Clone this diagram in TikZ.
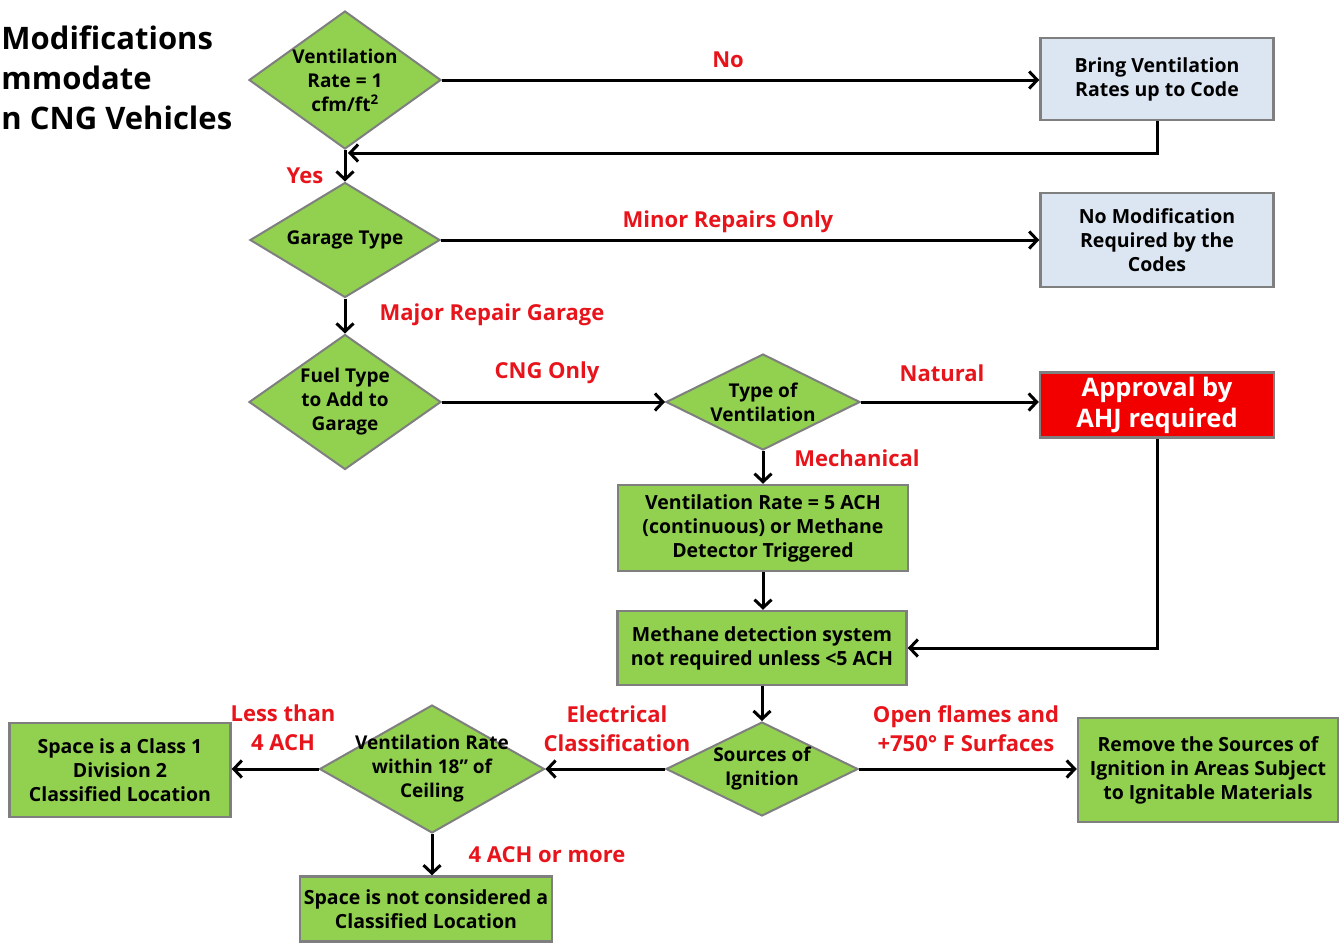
\documentclass[tikz,border=0pt]{standalone}
\usepackage{fontspec}
\setmainfont{Open Sans}
\usetikzlibrary{shapes.geometric,arrows.meta}
\definecolor{leaf}{HTML}{92D050}
\definecolor{edge}{HTML}{7F7F7F}
\definecolor{pale}{HTML}{DCE6F2}
\definecolor{alert}{HTML}{E8141B}
\begin{document}
\begin{tikzpicture}[x=1pt,y=-1pt,line width=3pt,
  >={Straight Barb[length=8pt,width=17pt]},
  dec/.style={diamond,draw=edge,line width=2pt,fill=leaf,inner sep=-12pt,align=center,
    font=\bfseries\fontsize{19}{24}\selectfont},
  act/.style={rectangle,draw=edge,line width=2.5pt,fill=leaf,inner sep=2pt,align=center,
    font=\bfseries\fontsize{19.5}{24}\selectfont},
  info/.style={act,fill=pale},
  halt/.style={act,fill=red!95!black,text=white,font=\bfseries\fontsize{25.5}{31}\selectfont},
  lbl/.style={text=alert,align=center,font=\bfseries\fontsize{22}{29}\selectfont}]
\useasboundingbox (0,0) rectangle (1342,948);

\node[anchor=north west,align=left,inner sep=0pt,font=\bfseries\fontsize{31}{40}\selectfont] (title) at (0,24)
  {Modifications\\mmodate\\n CNG Vehicles};

% decisions and boxes
\node[dec,minimum width=192,minimum height=138,aspect=1.39] (rate) at (345,80) {Ventilation\\Rate = 1\\cfm/ft\textsuperscript{2}};
\node[info,minimum width=233,minimum height=82] (bring) at (1157,79) {Bring Ventilation\\Rates up to Code};
\node[dec,minimum width=190,minimum height=115,aspect=1.65] (garage) at (345,240) {Garage Type};
\node[info,minimum width=233,minimum height=94] (nomod) at (1157,240) {No Modification\\Required by the\\Codes};
\node[dec,minimum width=192,minimum height=135,aspect=1.42] (fuel) at (345,402) {Fuel Type\\to Add to\\Garage};
\node[dec,minimum width=194,minimum height=96,aspect=2.02] (vtype) at (763,402) {Type of\\Ventilation};
\node[halt,minimum width=234,minimum height=65] (ahj) at (1157,405) {Approval by\\AHJ required};
\node[act,minimum width=290,minimum height=86] (mech) at (763,528) {Ventilation Rate = 5 ACH\\(continuous) or Methane\\Detector Triggered};
\node[act,minimum width=289,minimum height=74] (detect) at (762,648) {Methane detection system\\not required unless <5 ACH};
\node[dec,minimum width=192,minimum height=94,aspect=2.04] (ign) at (762,769) {Sources of\\Ignition};
\node[act,minimum width=260,minimum height=104] (remove) at (1208,770) {Remove the Sources of\\Ignition in Areas Subject\\to Ignitable Materials};
\node[dec,minimum width=225,minimum height=128,aspect=1.76] (ceil) at (432,769) {Ventilation Rate\\within 18” of\\Ceiling};
\node[act,minimum width=221,minimum height=94] (class) at (120,770) {Space is a Class 1\\Division 2\\Classified Location};
\node[act,minimum width=252,minimum height=65] (noclass) at (426,909) {Space is not considered a\\Classified Location};

% branch labels
\node[lbl] (no) at (728,60) {No};
\node[lbl] (yes) at (305,176) {Yes};
\node[lbl] (minor) at (728,222) {Minor Repairs Only};
\node[lbl] (major) at (492,315) {Major Repair Garage};
\node[lbl] (cng) at (547,373) {CNG Only};
\node[lbl] (natural) at (942,373) {Natural};
\node[lbl] (mechlbl) at (857,458) {Mechanical};
\node[lbl] (flames) at (966,729) {Open flames and\\+750° F Surfaces};
\node[lbl] (elec) at (617,729) {Electrical\\Classification};
\node[lbl] (less) at (283,728) {Less than\\4 ACH};
\node[lbl] (more) at (547,855) {4 ACH or more};

\coordinate (back) at (348,153);

% connectors
\draw[->] (rate.east) -- (rate.east -| bring.west);
\draw[->] (bring.south) |- (back);
\draw[->] (rate.south) -- (garage.north);
\draw[->] (garage.east) -- (nomod.west);
\draw[->] (garage.south) -- (fuel.north);
\draw[->] (fuel.east) -- (vtype.west);
\draw[->] (vtype.east) -- (vtype.east -| ahj.west);
\draw[->] (vtype.south) -- (mech.north);
\draw[->] (mech.south) -- (mech.south |- detect.north);
\draw[->] (ahj.south) |- (detect.east);
\draw[->] (detect.south) -- (ign.north);
\draw[->] (ign.east) -- (ign.east -| remove.west);
\draw[->] (ign.west) -- (ceil.east);
\draw[->] (ceil.west) -- (ceil.west -| class.east);
\draw[->] (ceil.south) -- (ceil.south |- noclass.north);
\end{tikzpicture}
\end{document}
